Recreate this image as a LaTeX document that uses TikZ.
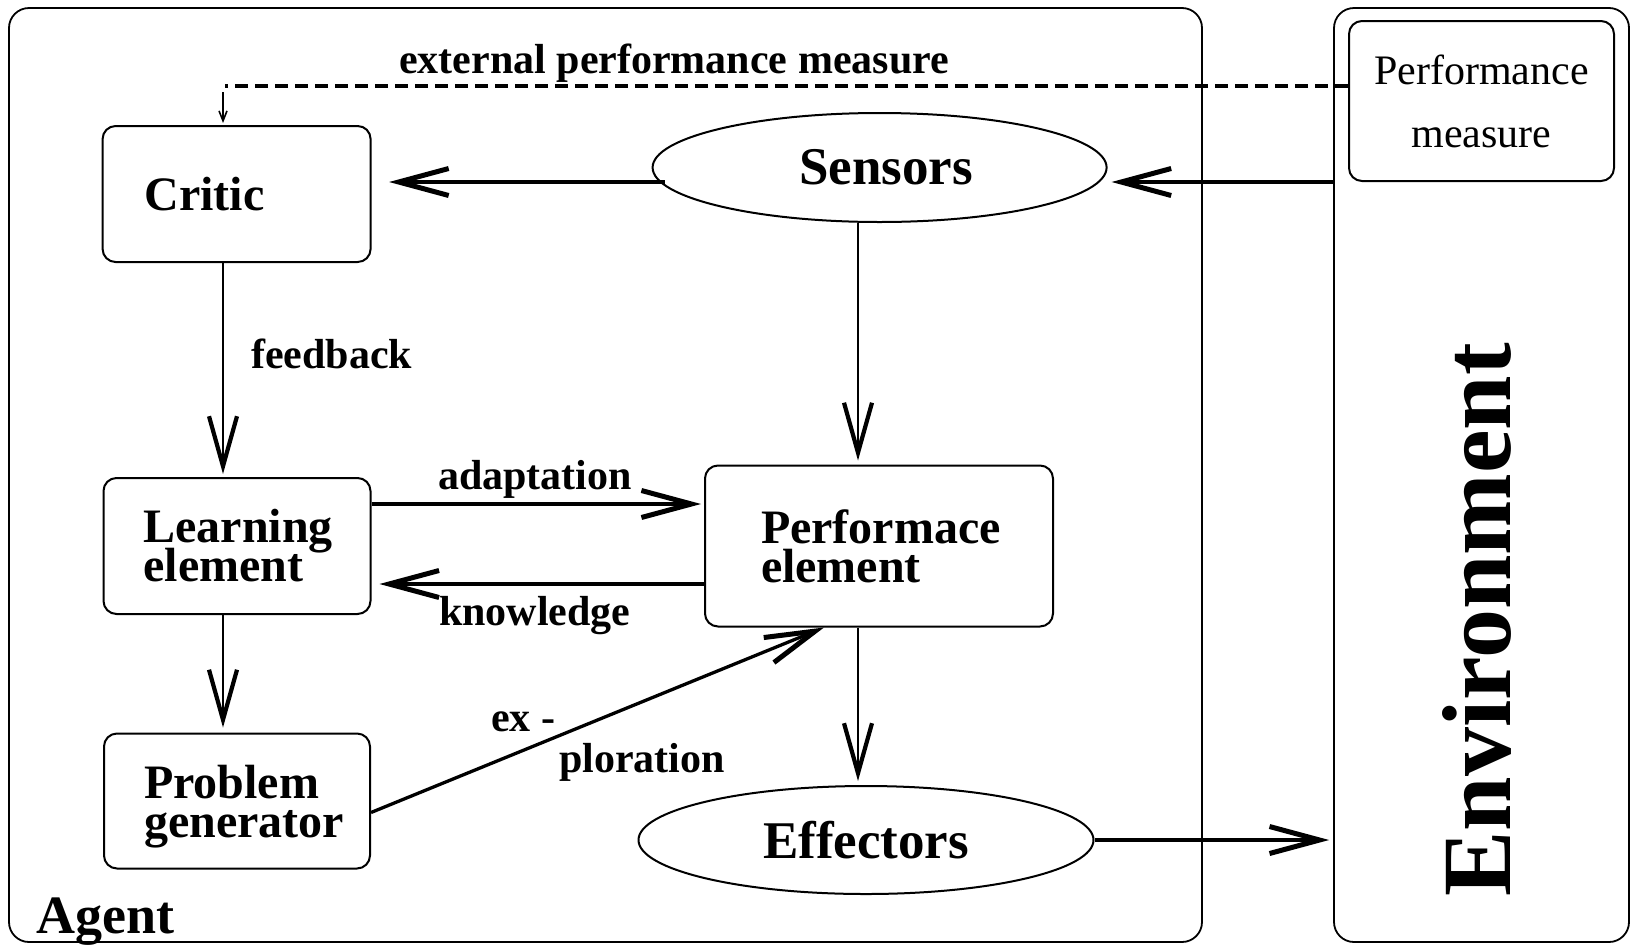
\documentclass[tikz,border=0pt]{standalone}
\usepackage{fontspec}
\setmainfont{Liberation Serif}
\usetikzlibrary{arrows.meta,shapes.geometric}
\tikzset{
  box/.style={draw, line width=2pt, rounded corners=13pt, inner sep=0pt, align=left},
  bigbox/.style={draw, line width=1.8pt, rounded corners=20pt, inner sep=0pt},
  oval/.style={draw, ellipse, line width=2pt, inner sep=0pt, font=\bfseries\fontsize{53}{53}\selectfont},
  btxt/.style={font={\bfseries\fontsize{48}{39}\selectfont\lineskiplimit=-60pt\relax}},
  lab/.style={font=\bfseries\fontsize{42}{42}\selectfont, inner sep=0pt, anchor=base west},
  tarr/.style={line width=3.3pt, -{Straight Barb[length=50pt,width=27pt,line width=5pt]}},
  narr/.style={line width=2.4pt, -{Straight Barb[length=50pt,width=28pt,line width=4.2pt]}},
  dline/.style={line width=4pt, dash pattern=on 13pt off 7pt},
  smallarr/.style={line width=2pt, -{Straight Barb[length=10pt,width=8pt,line width=1.6pt]}},
}
\begin{document}
\begin{tikzpicture}[x=1pt, y=-1pt]
\useasboundingbox (0,0) rectangle (1632,946);
% outer boxes
\node[bigbox, minimum width=1193pt, minimum height=934pt] (agent) at (605.5,475) {};
\node[bigbox, minimum width=295pt, minimum height=934pt] (env) at (1481.5,475) {};
\node[box, align=center, minimum width=265pt, minimum height=160pt,
      font=\fontsize{42}{63}\selectfont] (pm) at (1481.5,101) {Performance\\measure};
% inner boxes
\node[box, btxt, minimum width=268pt, minimum height=136pt, text width=184pt] (critic) at (236.6,194) {Critic};
\node[box, btxt, minimum width=267pt, minimum height=136pt, text width=187pt] (learn) at (237,546) {Learning\\element};
\node[box, btxt, minimum width=266pt, minimum height=135pt, text width=186pt] (prob) at (237,801) {Problem\\\smash{generator}};
\node[box, btxt, minimum width=348pt, minimum height=161pt, text width=236pt] (perf) at (879,546) {Performace\\element};
\node[oval, minimum width=454pt, minimum height=109pt] (sensors) at (879.6,167.5) {\hspace*{13pt}Sensors};
\node[oval, minimum width=455pt, minimum height=108pt] (eff) at (866,840) {Effectors};
% labels
\node[lab] (extl) at (399,73) {external performance measure};
\node[lab] (fbl) at (251,368) {feedback};
\node[lab] (adl) at (438,489) {adaptation};
\node[lab] (knl) at (439,625) {knowledge};
\node[lab] (exl) at (491,731) {ex -};
\node[lab] (pll) at (559,772) {ploration};
\node[font=\bfseries\fontsize{54}{54}\selectfont, inner sep=0pt, anchor=base west] (agentl) at (36,933) {Agent};
\node[font=\bfseries\fontsize{98}{98}\selectfont, inner sep=0pt, anchor=base, rotate=90] (envl) at (1510,620) {Environment};
% connectors
\path ([yshift=15pt]pm.west) coordinate (dstart);
\path ([xshift=-13.6pt]critic.north) coordinate (dend);
\coordinate (dcorner) at (dend |- dstart);
\draw[dline] (dstart) -- ([xshift=2pt]dcorner);
\draw[smallarr, shorten <=6pt, shorten >=2pt] (dcorner) -- (dend);
\draw[tarr, shorten <=-13pt] ([yshift=-14.5pt]sensors.west) -- ([xshift=17.5pt,yshift=12pt]critic.east);
\draw[tarr] ([yshift=293pt]env.west) -- ([xshift=4pt,yshift=-14.5pt]sensors.east);
\draw[narr, shorten >=4pt] ([xshift=-21.6pt]sensors.south) -- ([xshift=-21pt]perf.north);
\draw[narr, shorten >=3pt] ([xshift=-13.6pt]critic.south) -- ([xshift=-14pt]learn.north);
\draw[narr, shorten >=5pt] ([xshift=-14pt]learn.south) -- ([xshift=-14pt]prob.north);
\draw[tarr, shorten >=3pt] ([yshift=42pt]learn.east) -- ([yshift=42pt]perf.west);
\draw[tarr, shorten >=8pt] ([yshift=-38pt]perf.west) -- ([yshift=-38pt]learn.east);
\draw[tarr] ([yshift=-11.5pt]prob.east) -- ([xshift=-55pt]perf.south);
\draw[narr, shorten >=4pt] ([xshift=-21pt]perf.south) -- ([xshift=-8pt]eff.north);
\draw[tarr, shorten >=4pt] (eff.east) -- (env.west |- eff.east);
\end{tikzpicture}
\end{document}
